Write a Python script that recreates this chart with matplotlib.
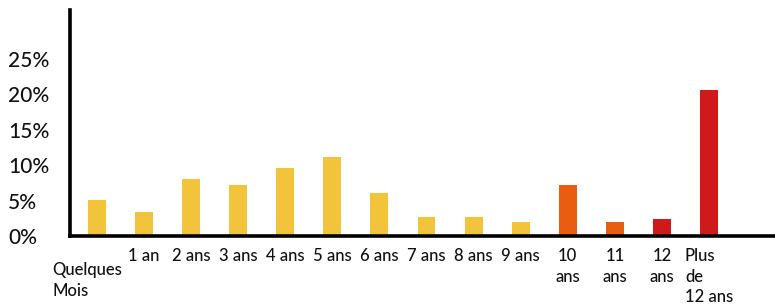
import matplotlib.pyplot as plt
from matplotlib import transforms

plt.rcParams['font.family'] = ['Lato', 'DejaVu Sans']
plt.rcParams['font.weight'] = 'medium'

# data
categories = ['Quelques\nMois', '1 an', '2 ans', '3 ans', '4 ans', '5 ans', '6 ans',
              '7 ans', '8 ans', '9 ans', '10\nans', '11\nans', '12\nans', 'Plus\nde\n12 ans']
values = [5.1, 3.4, 8.0, 7.2, 9.6, 11.2, 6.1, 2.7, 2.7, 2.0, 7.2, 2.0, 2.4, 20.6]
yticks = [0, 5, 10, 15, 20, 25]
ytick_labels = ['0%', '5%', '10%', '15%', '20%', '25%']

yellow = '#F2C43C'
orange = '#E85D10'
red = '#CF1A1C'
colors = [yellow] * 10 + [orange, orange, red, red]

fig = plt.figure(figsize=(7.75, 3.05), dpi=100)
ax = fig.add_axes([0.0903, 0.226, 0.9097, 0.741])

x = range(len(values))
ax.bar(x, values, width=0.38, color=colors)

ax.set_xlim(-0.57, 14.4)
ax.set_ylim(0, 31.9)

for side in ['top', 'right']:
    ax.spines[side].set_visible(False)
for side in ['left', 'bottom']:
    ax.spines[side].set_linewidth(2.6)
    ax.spines[side].set_color('black')

ax.set_yticks(yticks)
ax.set_yticklabels(ytick_labels, fontsize=15, ha='left', color='#111111')
ax.tick_params(axis='y', length=0, pad=44.5)

ax.set_xticks(list(x))
ax.set_xticklabels([''] * len(categories))
ax.tick_params(axis='x', length=0)

# category labels drawn below the axis line
trans = transforms.blended_transform_factory(ax.transData, ax.transAxes)
for i, lab in enumerate(categories):
    off = transforms.ScaledTranslation(0, -(12 if i > 0 else 26) / 100, fig.dpi_scale_trans)
    dx = -0.2 if i == 0 else 0
    ax.text(i + dx, 0, lab, transform=trans + off, ha='center', va='top',
            multialignment='left' if i in (0, 13) else 'center',
            fontsize=12, linespacing=1.35, color='#111111')

fig.savefig('out.png', dpi=100)
